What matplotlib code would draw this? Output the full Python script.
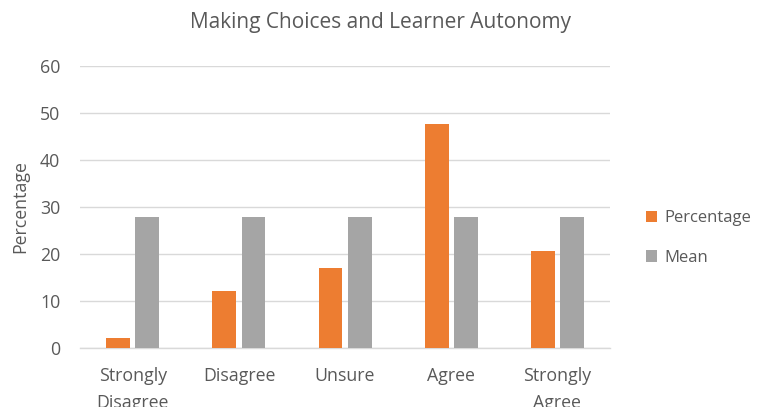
import matplotlib
matplotlib.use("Agg")
import matplotlib.pyplot as plt
import numpy as np

categories = ["Strongly\nDisagree", "Disagree", "Unsure", "Agree", "Strongly\nAgree"]
percentage = [2.1, 12.2, 17.0, 47.7, 20.7]
mean = [27.9, 27.9, 27.9, 27.9, 27.9]
yticks = [0, 10, 20, 30, 40, 50, 60]

plt.rcParams['font.family'] = ['Open Sans', 'DejaVu Sans']
txt = '#595959'
fs = 12.8

fig = plt.figure(figsize=(7.6, 4.07), dpi=100)
ax = fig.add_axes([0.105, 0.145, 0.698, 0.693])

x = np.arange(len(categories))
w = 0.225
ax.bar(x - 0.137, percentage, w, color='#ED7D31', label='Percentage', zorder=3)
ax.bar(x + 0.137, mean, w, color='#A5A5A5', label='Mean', zorder=3)

ax.set_xlim(-0.5, len(categories) - 0.5)
ax.set_ylim(0, 60)
ax.set_yticks(yticks)
ax.set_xticks(x)
ax.set_xticklabels(categories, fontsize=fs, color=txt, linespacing=1.6)
ax.tick_params(axis='y', labelsize=fs, colors=txt, length=0, pad=14)
ax.tick_params(axis='x', length=0, pad=14)
ax.grid(axis='y', color='#d9d9d9', linewidth=1, zorder=0)
for s in ['top', 'right', 'left']:
    ax.spines[s].set_visible(False)
ax.spines['bottom'].set_color('#d9d9d9')
ax.spines['bottom'].set_linewidth(1)

ax.set_ylabel('Percentage', fontsize=fs, color=txt, labelpad=8)
fig.text(0.5, 0.945, 'Making Choices and Learner Autonomy', ha='center', va='center',
         fontsize=15, color=txt)

leg = fig.legend(loc='center left', bbox_to_anchor=(0.83, 0.415), frameon=False,
                 fontsize=12, labelspacing=1.4, handlelength=0.7, handleheight=0.7,
                 handletextpad=0.4)
for t in leg.get_texts():
    t.set_color(txt)

fig.savefig('out.png', dpi=100)
